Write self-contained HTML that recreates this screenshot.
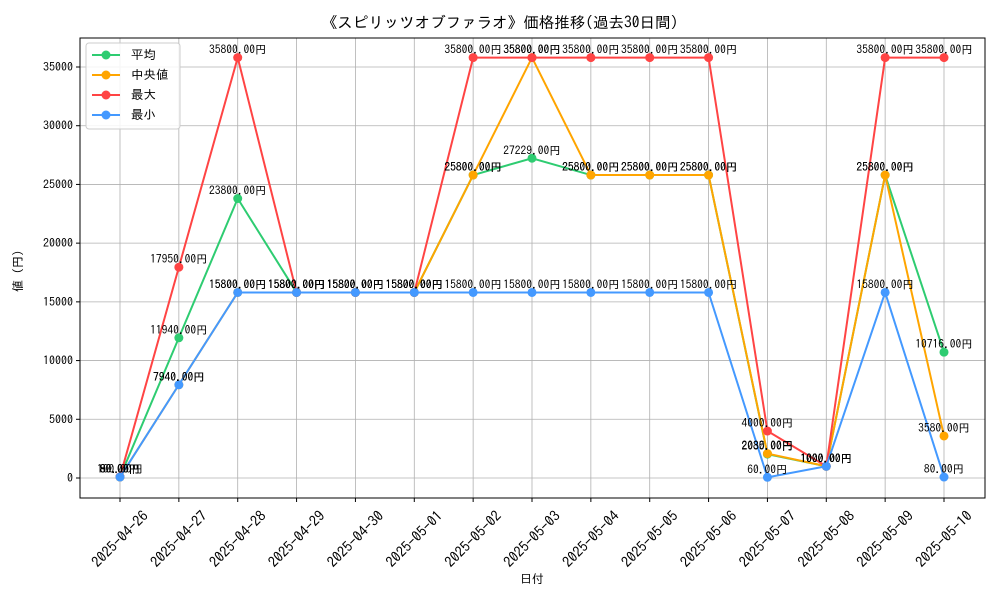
<!DOCTYPE html>
<html><head><meta charset="utf-8"><style>
body{margin:0;background:#fff;font-family:"IPAGothic","Liberation Sans","Noto Sans CJK JP",sans-serif}
svg text{font-family:"IPAGothic","Liberation Sans","Noto Sans CJK JP",sans-serif}
</style></head><body>
<svg id="chart" width="1000" height="600" xmlns="http://www.w3.org/2000/svg"></svg>
<script>
const dates=["2025-04-26","2025-04-27","2025-04-28","2025-04-29","2025-04-30","2025-05-01","2025-05-02","2025-05-03","2025-05-04","2025-05-05","2025-05-06","2025-05-07","2025-05-08","2025-05-09","2025-05-10"];
const avgVals=[90,11940,23800,15800,15800,15800,25800,27229,25800,25800,25800,2035,1000,25800,10716];
const medVals=[80,7940,15800,15800,15800,15800,25800,35800,25800,25800,25800,2080,1000,25800,3580];
const maxVals=[100,17950,35800,15800,15800,15800,35800,35800,35800,35800,35800,4000,1000,35800,35800];
const minVals=[80,7940,15800,15800,15800,15800,15800,15800,15800,15800,15800,60,1000,15800,80];
const yTicks=[0,5000,10000,15000,20000,25000,30000,35000];
const seriesNames=["平均","中央値","最大","最小"];
const NS="http://www.w3.org/2000/svg";
const svg=document.getElementById('chart');
const L=80,R=985,T=38,B=498;
const X=i=>120+i*(944-120)/(dates.length-1);
const Y=v=>478-v*(478-67)/35000;
function el(t,a,p){const e=document.createElementNS(NS,t);for(const k in a)e.setAttribute(k,a[k]);(p||svg).appendChild(e);return e;}
const grid=el('g',{});
dates.forEach((d,i)=>{el('line',{x1:X(i),x2:X(i),y1:T,y2:B,stroke:'#b0b0b0','stroke-width':0.8},grid);});
yTicks.forEach(v=>{el('line',{x1:L,x2:R,y1:Y(v),y2:Y(v),stroke:'#b0b0b0','stroke-width':0.8},grid);});
el('rect',{x:L,y:T,width:R-L,height:B-T,fill:'none',stroke:'#000','stroke-width':1});
yTicks.forEach(v=>{
 el('line',{x1:L-4,x2:L,y1:Y(v),y2:Y(v),stroke:'#000'});
 const t=el('text',{x:L-7,y:Y(v)+4,'text-anchor':'end','font-size':12});t.textContent=v;
 
});
dates.forEach((d,i)=>{
 el('line',{x1:X(i),x2:X(i),y1:B,y2:B+4,stroke:'#000'});
 const cx=X(i),cy=539;
 const t=el('text',{x:cx,y:cy+5,'text-anchor':'middle','font-size':14.5,transform:`rotate(-45 ${cx} ${cy})`});t.textContent=d;
 
});
let t=el('text',{x:500,y:28,'text-anchor':'middle','font-size':15.5});t.textContent="《スピリッツオブファラオ》価格推移(過去30日間)";

t=el('text',{x:532,y:583,'text-anchor':'middle','font-size':12});t.textContent="日付";

t=el('text',{x:22,y:268,'text-anchor':'middle','font-size':12,transform:'rotate(-90 22 268)'});t.textContent="値（円）";

const series=[[avgVals,'#2ecc71'],[medVals,'#ffa500'],[maxVals,'#ff4444'],[minVals,'#4499ff']];
series.forEach(([vals,c],si)=>{
 const g=el('g',{});
 el('polyline',{points:vals.map((v,i)=>X(i)+','+Y(v)).join(' '),fill:'none',stroke:c,'stroke-width':2},g);
 vals.forEach((v,i)=>{const p=el('circle',{cx:X(i),cy:Y(v),r:4.5,fill:c},g);
  });
});
series.forEach(([vals,c])=>{vals.forEach((v,i)=>{
 const a=el('text',{x:X(i),y:Y(v)-4,'text-anchor':'middle','font-size':11.5});a.textContent=v.toFixed(2)+"円";
 
});});
const lg=el('g',{});
el('rect',{x:86,y:43,width:94,height:86,rx:3,fill:'#fff','fill-opacity':0.85,stroke:'#ccc'},lg);
series.forEach(([v,c],i)=>{const y=55+i*20;
 el('line',{x1:92,x2:120,y1:y,y2:y,stroke:c,'stroke-width':2},lg);
 el('circle',{cx:106,cy:y,r:4.5,fill:c},lg);
 const tt=el('text',{x:131,y:y+4,'font-size':12.5},lg);tt.textContent=seriesNames[i];
 
});
</script>
</body></html>
